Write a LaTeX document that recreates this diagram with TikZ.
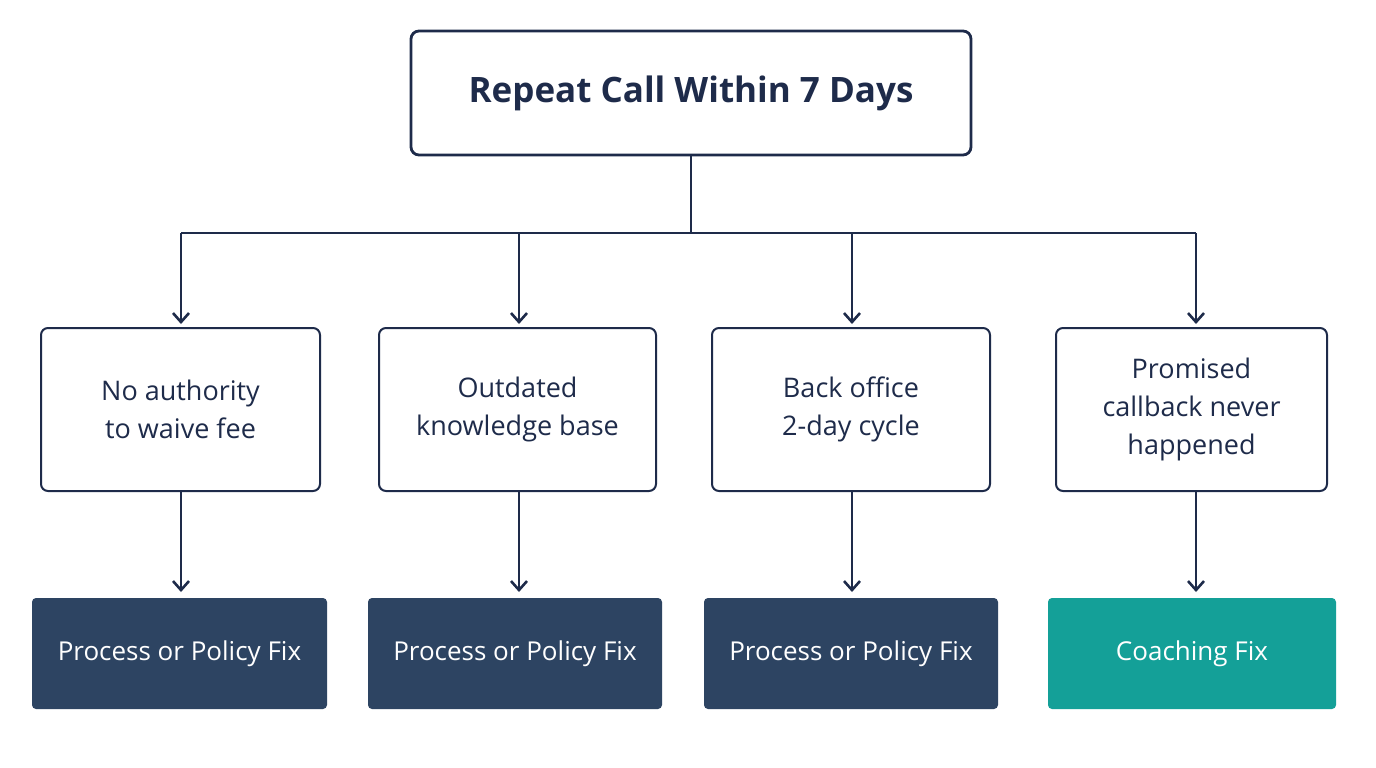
\documentclass[tikz,border=0pt]{standalone}
\usepackage{fontspec}
\setmainfont{Open Sans}
\usetikzlibrary{arrows.meta}
\definecolor{navy}{HTML}{1E2B4A}
\definecolor{boxnavy}{HTML}{2D4462}
\definecolor{teal}{HTML}{14A098}
\begin{document}
\begin{tikzpicture}[x=1pt,y=-1pt,
  top/.style={draw=navy,line width=2.8pt,rounded corners=8pt,minimum width=560pt,minimum height=124pt,font=\fontsize{35}{40}\selectfont\bfseries,text=navy},
  mid/.style={draw=navy,line width=2pt,rounded corners=7pt,minimum height=163pt,font=\fontsize{27}{38}\selectfont,text=navy,align=center},
  fix/.style={fill=boxnavy,rounded corners=4pt,minimum height=111pt,font=\fontsize{26}{30}\selectfont,text=white},
  conn/.style={draw=navy,line width=2.6pt},
  arr/.style={conn,-{Straight Barb[length=9pt,width=16pt,line width=2.6pt]}}]
\useasboundingbox[fill=white] (0,0) rectangle (1376,768);
\node[top] (t) at (691,93) {Repeat Call Within 7 Days};
\node[mid,minimum width=279pt] (m1) at (180.5,409.5) {No authority\\to waive fee};
\node[mid,minimum width=277pt] (m2) at (517.5,409.5) {Outdated\\knowledge base};
\node[mid,minimum width=278pt] (m3) at (851,409.5) {Back office\\2-day cycle};
\node[mid,minimum width=271pt] (m4) at (1191.5,409.5) {Promised\\callback never\\happened};
\node[fix,minimum width=295pt] (f1) at (179.5,653.5) {Process or Policy Fix};
\node[fix,minimum width=294pt] (f2) at (515,653.5) {Process or Policy Fix};
\node[fix,minimum width=294pt] (f3) at (851,653.5) {Process or Policy Fix};
\node[fix,fill=teal,minimum width=288pt] (f4) at (1192,653.5) {Coaching Fix};
\coordinate (j) at (691,233);
\coordinate (c1) at (181,233);
\coordinate (c2) at (519,233);
\coordinate (c3) at (852,233);
\coordinate (c4) at (1196,233);
\draw[conn] (t.south) -- (j);
\draw[conn] (c1) -- (c4);
\foreach \i in {1,2,3,4}{
  \draw[arr] (c\i) -- (c\i |- 0,324);
  \draw[arr] (c\i |- m\i.south) -- (c\i |- 0,592);
}
\end{tikzpicture}
\end{document}
